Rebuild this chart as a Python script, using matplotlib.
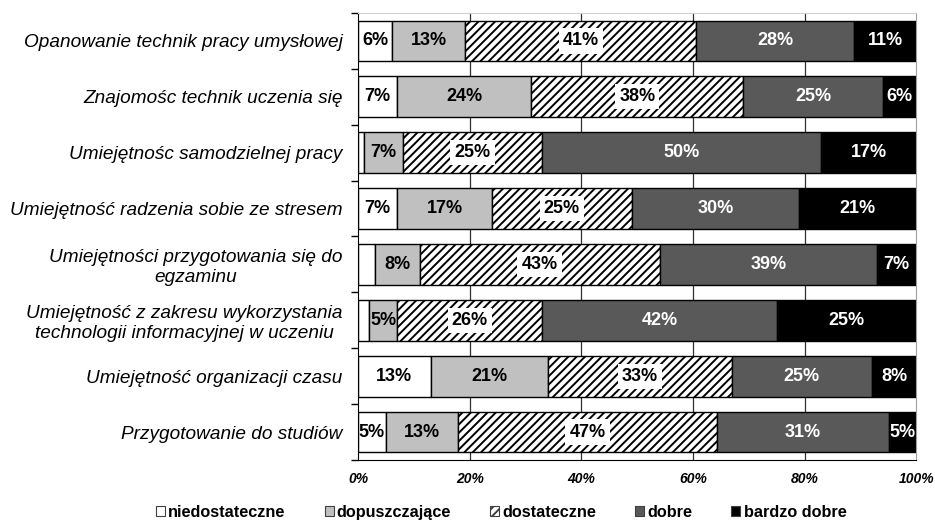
import numpy as np
import matplotlib
matplotlib.use('Agg')
import matplotlib.pyplot as plt
from matplotlib.patches import Patch

plt.rcParams['font.family'] = ['Liberation Sans', 'DejaVu Sans']
plt.rcParams['hatch.linewidth'] = 1.4

# kategorie (od gory do dolu)
cats = ["Opanowanie technik pracy umysłowej",
        "Znajomośc technik uczenia się",
        "Umiejętnośc samodzielnej pracy",
        "Umiejętność radzenia sobie ze stresem",
        "Umiejętności przygotowania się do\negzaminu",
        "Umiejętność z zakresu wykorzystania\ntechnologii informacyjnej w uczeniu",
        "Umiejętność organizacji czasu",
        "Przygotowanie do studiów"]

series = ["niedostateczne", "dopuszczające", "dostateczne", "dobre", "bardzo dobre"]

# wartosci w %
niedost = [6, 7, 1, 7, 3, 2, 13, 5]
dopusz = [13, 24, 7, 17, 8, 5, 21, 13]
dostat = [41, 38, 25, 25, 43, 26, 33, 47]
dobre = [28, 25, 50, 30, 39, 42, 25, 31]
bdobre = [11, 6, 17, 21, 7, 25, 8, 5]

xticks = [0, 20, 40, 60, 80, 100]

colors = ['white', '#c0c0c0', 'white', '#595959', 'black']
hatches = [None, None, '////', None, None]
txtcol = ['black', 'black', 'black', 'white', 'white']

data = np.array([niedost, dopusz, dostat, dobre, bdobre], dtype=float)
tot = data.sum(axis=0)
norm = data / tot * 100

fig = plt.figure(figsize=(9.35, 5.2), dpi=100)
ax = fig.add_axes([0.383, 0.1154, 0.597, 0.8596])

y = np.arange(len(cats))
left = np.zeros(len(cats))
for k in range(5):
    ax.barh(y, norm[k], left=left, height=0.73, color=colors[k], hatch=hatches[k],
            edgecolor='black', linewidth=1.0, zorder=2)
    for i in range(len(cats)):
        v = data[k][i]
        if v < 4:
            continue
        cx = left[i] + norm[k][i] / 2
        if k == 2:
            ax.text(cx, y[i], '%d%%' % v, ha='center', va='center', fontsize=13,
                    fontweight='bold', color=txtcol[k], zorder=3,
                    bbox=dict(facecolor='white', edgecolor='none', pad=3))
        else:
            ax.text(cx, y[i], '%d%%' % v, ha='center', va='center', fontsize=13,
                    fontweight='bold', color=txtcol[k], zorder=3)
    left = left + norm[k]

ax.set_xlim(0, 100)
ax.set_ylim(len(cats) - 0.5, -0.5)
ax.set_xticks(xticks)
ax.set_xticklabels(['%d%%' % t for t in xticks], fontsize=10, fontstyle='italic',
                   fontweight='bold')
ax.tick_params(axis='x', length=0, pad=9)
ax.set_yticks(y)
ax.set_yticklabels(cats, fontsize=13.7, fontstyle='italic', multialignment='center')
ax.tick_params(axis='y', length=0, pad=11)
ax.set_yticks(np.arange(len(cats) + 1) - 0.5, minor=True)
ax.tick_params(axis='y', which='minor', length=5, width=1, color='black')

for t in xticks[1:-1]:
    ax.axvline(t, color='#303030', linewidth=0.9, zorder=1)

ax.spines['left'].set_color('black')
ax.spines['bottom'].set_color('black')
ax.spines['top'].set_color('#d0d0d0')
ax.spines['right'].set_color('#a0a0a0')

handles = [Patch(facecolor=colors[k], edgecolor='#404040', hatch=hatches[k], linewidth=0.8)
           for k in range(5)]
fig.legend(handles, series, loc='lower center', bbox_to_anchor=(0.536, -0.028), ncol=5,
           frameon=False, handlelength=0.55, handleheight=0.55, handletextpad=0.2,
           columnspacing=2.4, prop={'size': 11.7, 'weight': 'bold'})

fig.savefig('out.png', dpi=100)
